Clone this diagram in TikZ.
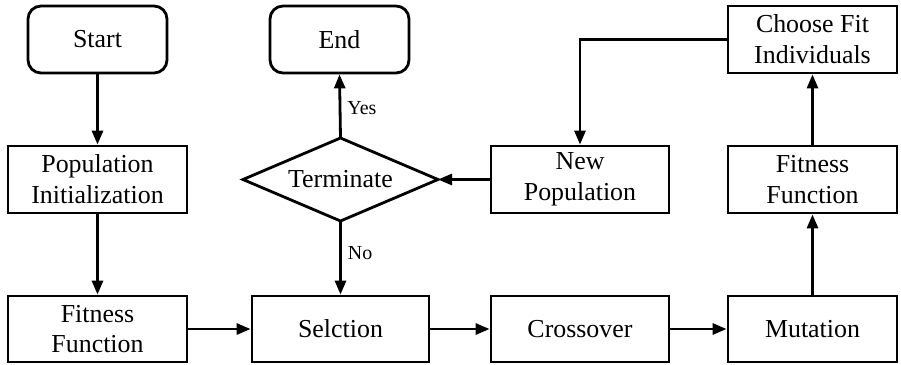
\documentclass[tikz,border=0pt]{standalone}
\usepackage{fontspec}
\setmainfont{Liberation Serif}
\usetikzlibrary{arrows.meta}
\begin{document}
\begin{tikzpicture}[x=1bp,y=1bp,
  every node/.style={font=\fontsize{26}{31}\selectfont, align=center, inner sep=0pt},
  box/.style={draw, line width=2.8bp, rectangle, minimum height=67bp},
  rbox/.style={box, rounded corners=13bp},
  decline/.style={draw, line width=2.8bp, line join=miter},
  conn/.style={line width=2.8bp, -{Triangle[length=14bp,width=11bp]}},
  lbl/.style={font=\fontsize{20}{23}\selectfont, anchor=west}]
\useasboundingbox (0,0) rectangle (901,-364);
\node[rbox, minimum width=139bp] (start) at (97.5,-39.5) {Start};
\node[rbox, minimum width=139bp] (end) at (339.5,-39.5) {End};
\node[box, minimum width=169bp] (choose) at (812.5,-39.5) {Choose Fit\\Individuals};
\node[box, minimum width=179bp] (init) at (97.5,-179.5) {Population\\Initialization};
\node (term) at (340.5,-179.5) {Terminate};
\coordinate (termN) at (340.5,-138);
\coordinate (termS) at (340.5,-221);
\coordinate (termW) at (243,-179.5);
\coordinate (termE) at (438,-179.5);
\draw[decline] (termW) -- (termN) -- (termE) -- (termS) -- cycle;
\node[box, minimum width=178bp] (newpop) at (580,-179.5) {New\\Population};
\node[box, minimum width=169bp] (fit2) at (812.5,-179.5) {Fitness\\Function};
\node[box, minimum width=179bp, minimum height=66bp] (fit1) at (97.5,-329) {Fitness\\Function};
\node[box, minimum width=177bp, minimum height=66bp] (sel) at (340.5,-329) {Selction};
\node[box, minimum width=178bp, minimum height=66bp] (cross) at (580,-329) {Crossover};
\node[box, minimum width=169bp, minimum height=66bp] (mut) at (812.5,-329) {Mutation};
\draw[conn] (start) -- (init);
\draw[conn] (init) -- (fit1);
\draw[conn] (fit1) -- (sel);
\draw[conn] (sel) -- (cross);
\draw[conn] (cross) -- (mut);
\draw[conn] (mut) -- (fit2);
\draw[conn] (fit2) -- (choose);
\draw[conn] (choose.west) -| (newpop.north);
\draw[conn] (newpop.west) -- (termE);
\draw[conn] (termN) -- node[lbl, xshift=6bp, yshift=-2bp] (yes) {Yes} (end.south);
\draw[conn] (termS) -- node[lbl, xshift=6bp, yshift=5bp] (no) {No} (sel.north);
\end{tikzpicture}
\end{document}
